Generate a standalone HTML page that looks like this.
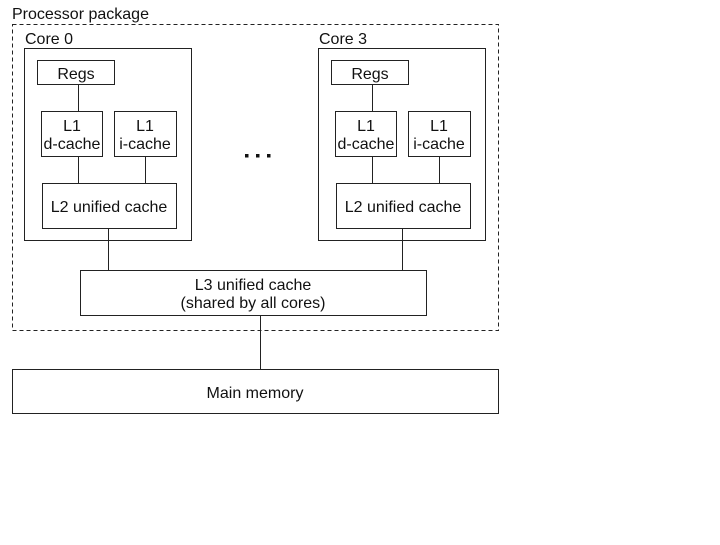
<!DOCTYPE html>
<html><head><style>
body{margin:0;width:720px;height:540px;background:#fff;overflow:hidden}
svg text{font-family:"Liberation Sans",sans-serif;font-size:16px;fill:#111}
</style></head><body>
<svg width="720" height="540" xmlns="http://www.w3.org/2000/svg">
<g fill="none" stroke="#222" stroke-width="1">
<rect x="12.5" y="24.5" width="486" height="306" stroke-dasharray="4,3"/>
<g id="c">
<rect x="24.5" y="48.5" width="167" height="192"/>
<rect x="37.5" y="60.5" width="77" height="24"/>
<rect x="41.5" y="111.5" width="61" height="45"/>
<rect x="114.5" y="111.5" width="62" height="45"/>
<rect x="42.5" y="183.5" width="134" height="45"/>
<line x1="78.5" y1="84.5" x2="78.5" y2="111.5"/>
<line x1="78.5" y1="156.5" x2="78.5" y2="183.5"/>
<line x1="145.5" y1="156.5" x2="145.5" y2="183.5"/>
<line x1="108.5" y1="228.5" x2="108.5" y2="270.5"/>
</g>
<use href="#c" transform="translate(294,0)"/>
<rect x="80.5" y="270.5" width="346" height="45"/>
<line x1="260.5" y1="315.5" x2="260.5" y2="369.5"/>
<rect x="12.5" y="369.5" width="486" height="44"/>
</g>
<text x="12" y="19">Processor package</text>
<g id="t">
<text x="25" y="44">Core 0</text>
<text x="76" y="79" text-anchor="middle">Regs</text>
<text x="72" y="131" text-anchor="middle">L1</text>
<text x="72" y="149" text-anchor="middle">d-cache</text>
<text x="145" y="131" text-anchor="middle">L1</text>
<text x="145" y="149" text-anchor="middle">i-cache</text>
<text x="109" y="212" text-anchor="middle">L2 unified cache</text>
</g>
<g transform="translate(294,0)">
<text x="25" y="44">Core 3</text>
<text x="76" y="79" text-anchor="middle">Regs</text>
<text x="72" y="131" text-anchor="middle">L1</text>
<text x="72" y="149" text-anchor="middle">d-cache</text>
<text x="145" y="131" text-anchor="middle">L1</text>
<text x="145" y="149" text-anchor="middle">i-cache</text>
<text x="109" y="212" text-anchor="middle">L2 unified cache</text>
</g>
<g fill="#111"><rect x="245" y="154" width="3.5" height="3.5"/><rect x="256" y="154" width="3.5" height="3.5"/><rect x="267" y="154" width="3.5" height="3.5"/></g>
<text x="253" y="290" text-anchor="middle">L3 unified cache</text>
<text x="253" y="308" text-anchor="middle">(shared by all cores)</text>
<text x="255" y="398" text-anchor="middle">Main memory</text>
</svg>
</body></html>
